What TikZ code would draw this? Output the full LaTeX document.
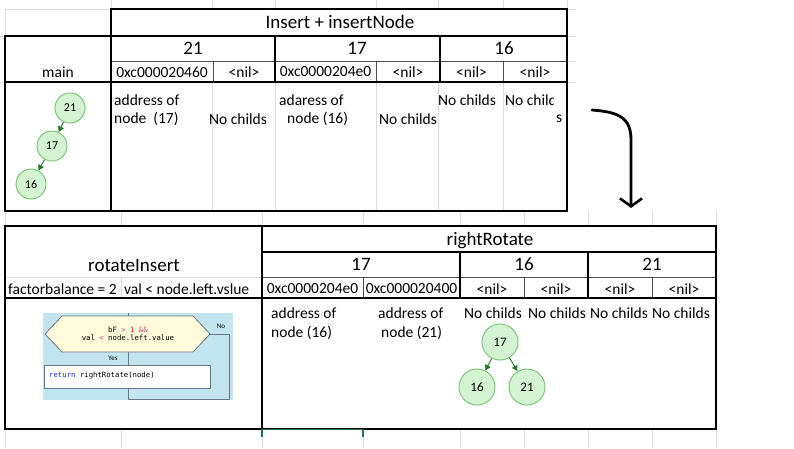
\documentclass[tikz,border=0pt]{standalone}
\usepackage{fontspec}
\setmainfont{Carlito}
\newfontfamily\codefont{DejaVu Sans Mono}
\usetikzlibrary{arrows.meta}
\definecolor{gridc}{HTML}{DCDCDC}
\definecolor{nodefill}{HTML}{D4F3D2}
\definecolor{nodeborder}{HTML}{7CC67A}
\definecolor{arrowgreen}{HTML}{1E7A1E}
\definecolor{fcbg}{HTML}{C2E4EE}
\definecolor{fchex}{HTML}{FDFBDA}
\definecolor{fcline}{HTML}{6A7886}
\definecolor{kwpink}{HTML}{D0408A}
\definecolor{kwred}{HTML}{E0202A}
\definecolor{kwblue}{HTML}{1030D0}
\definecolor{xlgreen}{HTML}{217346}
\begin{document}
\begin{tikzpicture}[x=1pt,y=-1pt,
  thickb/.style={line width=2.6pt, line cap=rect},
  thinb/.style={line width=1pt, draw=black!70},
  gridl/.style={line width=0.8pt, draw=gridc},
  hd/.style={font=\fontsize{19}{21}\selectfont, inner sep=0},
  tx/.style={font=\fontsize{15.5}{17}\selectfont, inner sep=0},
  txl/.style={tx, anchor=west},
  tnode/.style={circle, draw=nodeborder, fill=nodefill, line width=1pt, inner sep=0},
  small/.style={tnode, minimum size=30pt, font=\fontsize{12}{14}\selectfont},
  big/.style={tnode, minimum size=36pt, font=\fontsize{13}{15}\selectfont},
  tarrow/.style={draw=arrowgreen, line width=0.9pt, -{Triangle[length=5.5pt,width=6pt]}},
  code/.style={font=\codefont\fontsize{7.3}{8}\selectfont, inner sep=0},
  fclab/.style={font=\fontsize{7}{8}\selectfont, inner sep=0}
]
\useasboundingbox (0,0) rectangle (794,448);

% ---------- faint Excel gridlines ----------
\foreach \x in {111,212,275,376,438,503,567}{\draw[gridl] (\x,0) -- (\x,9);}
\foreach \x in {212,275,376,438,503}{\draw[gridl] (\x,82) -- (\x,211);}
\foreach \x in {5,121,262,363,460,524,588,652,716}{\draw[gridl] (\x,211) -- (\x,226);}
\foreach \x in {5,121,262,363,460,524,588,652,716}{\draw[gridl] (\x,429) -- (\x,448);}
\foreach \y in {9,36,61,82}{\draw[gridl] (567,\y) -- (576,\y);}
\foreach \y in {36,82}{\draw[gridl] (0,\y) -- (5,\y);}
\draw[gridl] (5,9) -- (111,9);
\draw[gridl] (5,9) -- (5,36);

% ---------- top table ----------
\draw[thinb] (111,61) -- (567,61);
\foreach \x in {213,376,503}{\draw[thinb] (\x,61) -- (\x,82);}
\draw[thickb] (111,36) -- (111,9) -- (567,9) -- (567,211) -- (5,211) -- (5,36) -- (567,36);
\draw[thickb] (5,82) -- (567,82);
\draw[thickb] (111,36) -- (111,211);
\draw[thickb] (275,36) -- (275,82);
\draw[thickb] (440,36) -- (440,82);

\node[hd] (t1) at (340,22) {Insert + insertNode};
\node[hd] (h21) at (193,48) {21};
\node[hd] (h17) at (357,48) {17};
\node[hd] (h16) at (504,48) {16};
\node[tx] (main) at (58,72) {main};
\node[tx] (a1) at (162,72) {0xc000020460};
\node[tx] (a2) at (244,72) {<nil>};
\node[tx] (a3) at (325.5,72) {0xc0000204e0};
\node[tx] (a4) at (408,72) {<nil>};
\node[tx] (a5) at (471.5,72) {<nil>};
\node[tx] (a6) at (535,72) {<nil>};

\node[txl] (c1) at (114,100.5) {address of};
\node[txl] (c2) at (114,119) {node\ \ (17)};
\node[txl] (c3) at (209,119) {No childs};
\node[txl] (c4) at (279,100.5) {adaress of};
\node[txl] (c5) at (287,119) {node (16)};
\node[txl] (c6) at (379,119) {No childs};
\node[txl] (c7) at (438,100.5) {No childs};
\begin{scope}
  \clip (111,84) rectangle (553,209);
  \node[txl] (c8) at (505,100.5) {No childs};
\end{scope}
\begin{scope}
  \clip (554,84) rectangle (565.5,209);
  \node[txl] (c9) at (556,119) {s};
\end{scope}

% top tree
\node[small] (n21) at (70,108) {21};
\node[small] (n17) at (52,146) {17};
\node[small] (n16) at (31,184) {16};
\draw[tarrow] (n21) -- (n17);
\draw[tarrow] (n17) -- (n16);

% ---------- curved arrow ----------
\coordinate (as) at (592,110);
\coordinate (am) at (631,140);
\coordinate (ae) at (631,208);
\draw[line width=2.8pt, line cap=round, -{Straight Barb[length=8pt,width=22pt,line width=2.6pt]}]
  (as) .. controls (618,112) and (631,117) .. (am) -- (ae);

% ---------- bottom table ----------
\draw[draw=gridc, line width=0.9pt] (5,277) -- (262,277);
\draw[draw=gridc, line width=0.9pt] (121,277) -- (121,298);
\draw[thinb] (262,277) -- (716,277);
\foreach \x in {363,524,652}{\draw[thinb] (\x,277) -- (\x,298);}
\draw[thickb] (5,226) rectangle (716,429);
\draw[thickb] (262,226) -- (262,429);
\draw[thickb] (262,252) -- (716,252);
\draw[thickb] (5,298) -- (716,298);
\draw[thickb] (460,252) -- (460,298);
\draw[thickb] (588,252) -- (588,298);

\node[hd] (rI) at (134,265) {rotateInsert};
\node[txl] (fb) at (8,289) {factorbalance = 2};
\node[txl] (vl) at (124,289) {val < node.left.vslue};
\node[hd] (rR) at (490,241) {rightRotate};
\node[hd] (g17) at (361,264) {17};
\node[hd] (g16) at (524,264) {16};
\node[hd] (g21) at (652,264) {21};
\node[tx] (b1) at (312.5,289) {0xc0000204e0};
\node[tx] (b2) at (411.5,289) {0xc000020400};
\node[tx] (b3) at (492,289) {<nil>};
\node[tx] (b4) at (556,289) {<nil>};
\node[tx] (b5) at (620,289) {<nil>};
\node[tx] (b6) at (684,289) {<nil>};

\node[txl] (d1) at (271,313) {address of};
\node[txl] (d2) at (271,333) {node (16)};
\node[txl] (d3) at (378,313) {address of};
\node[txl] (d4) at (381,333) {node (21)};
\node[txl] (d5) at (464,313) {No childs};
\node[txl] (d6) at (528,313) {No childs};
\node[txl] (d7) at (590,313) {No childs};
\begin{scope}
  \clip (262,300) rectangle (714.5,427);
  \node[txl] (d8) at (652,313) {No childs};
\end{scope}

% bottom tree
\node[big] (m17) at (500,342) {17};
\node[big] (m16) at (477,387) {16};
\node[big] (m21) at (527,387) {21};
\draw[tarrow] (m17) -- (m16);
\draw[tarrow] (m17) -- (m21);

% ---------- flowchart picture ----------
\fill[fcbg] (43,313) rectangle (233,400);
\coordinate (ftop) at (128,313);
\draw[fcline, line width=0.8pt, fill=fchex] (45,334) -- (62,316) -- (193,316) -- (210,334) -- (193,352) -- (62,352) -- cycle;
\coordinate (hexT) at (128,316);
\coordinate (hexB) at (128,352);
\coordinate (hexR) at (210,334);
\draw[fcline, line width=0.8pt] (ftop) -- (hexT);
\node[code, align=center] (cond) at (128,334) {bF \textcolor{kwpink}{>} \textcolor{kwred}{1} \textcolor{kwpink}{\&\&}\\val \textcolor{kwpink}{<} node.left.value};
\node[draw=fcline, fill=white, line width=0.8pt, minimum width=166pt, minimum height=23pt, inner sep=0] (ret) at (127,376.5) {};
\node[code, anchor=west] (rettxt) at (49,376) {\textcolor{kwblue}{return} rightRotate(node)};
\draw[fcline, line width=0.8pt] (hexB) -- (ret.north -| hexB);
\node[fclab] (yes) at (113,358.5) {Yes};
\node[fclab] (no) at (221,326) {No};
\coordinate (c1r) at (229,334);
\coordinate (c2r) at (229,399);
\coordinate (c3r) at (128,399);
\draw[fcline, line width=0.8pt] (hexR) -- (c1r) -- (c2r) -- (c3r) -- (ret.south -| c3r);

% ---------- Excel selection mark ----------
\draw[xlgreen, line width=1.6pt] (262,437) -- (262,429.5) -- (363,429.5) -- (363,437);
\end{tikzpicture}
\end{document}
